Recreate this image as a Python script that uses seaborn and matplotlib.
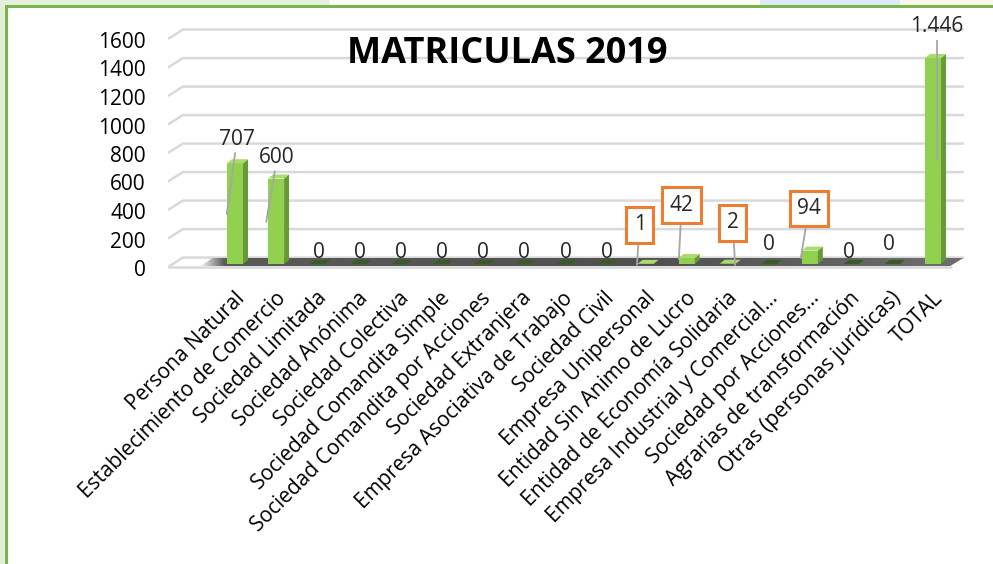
import matplotlib
matplotlib.use("Agg")
import matplotlib.pyplot as plt
import matplotlib.transforms as mtransforms
from matplotlib.patches import Polygon, Rectangle
from matplotlib.colors import LinearSegmentedColormap
import seaborn as sns
import pandas as pd
import numpy as np

# ---------------- data ----------------
categorias = [
    "Persona Natural",
    "Establecimiento de Comercio",
    "Sociedad Limitada",
    "Sociedad Anónima",
    "Sociedad Colectiva",
    "Sociedad Comandita Simple",
    "Sociedad Comandita por Acciones",
    "Sociedad Extranjera",
    "Empresa Asociativa de Trabajo",
    "Sociedad Civil",
    "Empresa Unipersonal",
    "Entidad Sin Animo de Lucro",
    "Entidad de Economía Solidaria",
    "Empresa Industrial y Comercial...",
    "Sociedad por Acciones...",
    "Agrarias de transformación",
    "Otras (personas jurídicas)",
    "TOTAL",
]
valores = [707, 600, 0, 0, 0, 0, 0, 0, 0, 0, 1, 42, 2, 0, 94, 0, 0, 1446]
etiquetas = ["707", "600", "0", "0", "0", "0", "0", "0", "0", "0",
             "1", "42", "2", "0", "94", "0", "0", "1.446"]
ticks_y = [0, 200, 400, 600, 800, 1000, 1200, 1400, 1600]
titulo = "MATRICULAS 2019"

# ---------------- layout (pixels) ----------------
W, H, DPI = 993, 564, 100
PX_X = 41.06      # pixels per category
PX_Y = 0.1425     # pixels per unit
X0_PX = 235.0     # pixel x of first category
Y0_PX = 264.0     # pixel y of value 0
XLIM = (-1.63, 17.8)
YLIM = (-40, 1730)
FS = 15

# label offsets (px right, px down) relative to (category, value)
lab_off = [(2, -24), (1, -21), (2, -12), (2, -12), (2, -12), (2, -12), (2, -12),
           (2, -12), (2, -12), (2, -12), (-6, -39), (-5, -53), (5, -41), (0, -19),
           (-1, -42), (-2, -11), (-3, -19), (4, -31)]
# leader line end (category offset, value) for labels with leaders
leaders = {0: (-0.2, 350), 1: (-0.24, 295), 17: (0.1, 730),
           10: (-0.21, -7), 11: (-0.19, 35), 12: (0.18, -7), 14: (-0.22, 42)}

sns.set_theme(style="white")
plt.rcParams["font.family"] = ["Open Sans", "DejaVu Sans"]

fig = plt.figure(figsize=(W / DPI, H / DPI), dpi=DPI)
fig.patch.set_facecolor("white")

# page background / frame
def fr(x0, y0, x1, y1):
    return (x0 / W, 1 - y1 / H, (x1 - x0) / W, (y1 - y0) / H)

for (x0, y0, x1, y1, c) in [(0, 0, 330, 6, "#E6F0DE"), (330, 0, 760, 6, "#FDFDF3"),
                             (760, 0, 900, 6, "#DCE9F6"), (900, 0, 993, 6, "#F7F7EC"),
                             (0, 6, 5, 564, "#E2EFDA")]:
    a, b, w, h = fr(x0, y0, x1, y1)
    fig.patches.append(Rectangle((a, b), w, h, transform=fig.transFigure,
                                 facecolor=c, edgecolor="none", zorder=0))
for (x0, y0, x1, y1) in [(5, 5, 993, 8), (5, 5, 8, 564)]:
    a, b, w, h = fr(x0, y0, x1, y1)
    fig.patches.append(Rectangle((a, b), w, h, transform=fig.transFigure,
                                 facecolor="#7AB44E", edgecolor="none", zorder=1))

# axes placement
left_px = X0_PX + XLIM[0] * PX_X
right_px = X0_PX + XLIM[1] * PX_X
top_px = Y0_PX - YLIM[1] * PX_Y
bot_px = Y0_PX - YLIM[0] * PX_Y
ax = fig.add_axes([left_px / W, 1 - bot_px / H, (right_px - left_px) / W,
                   (bot_px - top_px) / H])
ax.set_facecolor("none")

df = pd.DataFrame({"categoria": categorias, "valor": valores})
sns.barplot(data=df, x="categoria", y="valor", color="#92D050", saturation=1,
            width=0.39, ax=ax, zorder=5, edgecolor="none", linewidth=0)
bars = [p for p in ax.patches if isinstance(p, Rectangle)]

for s in ax.spines.values():
    s.set_visible(False)

# grid: back wall + side wall diagonal
grid_c = "#D9D9D9"
dg_x = 0.36
for v in ticks_y:
    ax.plot([XLIM[0], XLIM[0] + dg_x, 17.75], [v - 21, v + 45, v + 45],
            color=grid_c, lw=1.8, zorder=1, solid_capstyle="butt")
# floor front edge
ax.plot([XLIM[0], 17.45], [-21, -21], color=grid_c, lw=1.8, zorder=1)

# dark floor with fading left end
floor = Polygon([(-0.85, -14), (17.42, -14), (17.74, 42), (-0.55, 42)],
                closed=True, facecolor="none", edgecolor="none", zorder=2)
ax.add_patch(floor)
cmap = LinearSegmentedColormap.from_list("fl", ["#FFFFFF", "#5A5A5A", "#505050", "#6E6E6E"])
gx = np.clip(np.interp(np.linspace(-0.9, 17.8, 256), [-0.9, -0.3, 10, 17.8],
                       [0, 0.33, 0.66, 1.0]), 0, 1)
img = ax.imshow(gx[None, :], cmap=cmap, vmin=0, vmax=1, aspect="auto",
                extent=(-0.9, 17.8, -14, 42), zorder=2, interpolation="bilinear")
img.set_clip_path(floor)

# 3D sides / tops on bars
dx = 5 / PX_X
dy = 4 / PX_Y
for p, v in zip(bars, valores):
    x0 = p.get_x()
    x1 = x0 + p.get_width()
    h = p.get_height()
    if v == 0:
        ax.add_patch(Polygon([(x0 + 0.02, 0), (x1, 0), (x1 + dx, dy), (x0 + dx + 0.02, dy)],
                             closed=True, facecolor="#3B5B24", edgecolor="none", zorder=6))
        p.set_visible(False)
        continue
    ax.add_patch(Polygon([(x1, 0), (x1, h), (x1 + dx, h + dy), (x1 + dx, dy)],
                         closed=True, facecolor="#679A36", edgecolor="none", zorder=6))
    ax.add_patch(Polygon([(x0, h), (x1, h), (x1 + dx, h + dy), (x0 + dx, h + dy)],
                         closed=True, facecolor="#A9DC6C", edgecolor="none", zorder=6))

ax.set_xlim(*XLIM)
ax.set_ylim(*YLIM)

# y ticks
ax.set_yticks(ticks_y)
ax.set_yticklabels([str(t) for t in ticks_y], fontsize=FS, color="#000000")
ax.tick_params(axis="y", length=0, pad=16)
off_y = mtransforms.ScaledTranslation(0, -4 / DPI, fig.dpi_scale_trans)
for lab in ax.get_yticklabels():
    lab.set_transform(lab.get_transform() + off_y)

# x ticks
ax.set_xticks(range(len(categorias)))
ax.set_xticklabels(categorias, rotation=45, ha="right", va="top",
                   rotation_mode="anchor", fontsize=FS, color="#000000")
ax.tick_params(axis="x", length=0, pad=13)
off_x = mtransforms.ScaledTranslation(-1 / DPI, 0, fig.dpi_scale_trans)
for lab in ax.get_xticklabels():
    lab.set_transform(lab.get_transform() + off_x)
ax.set_xlabel("")
ax.set_ylabel("")

# data labels
for i, (v, t) in enumerate(zip(valores, etiquetas)):
    ox, oy = lab_off[i]
    lx = i + ox / PX_X
    ly = v - oy / PX_Y
    boxed = 0 < v < 100
    bbox = dict(boxstyle="square,pad=0.35", fc="white", ec="#ED7D31", lw=2.2) if boxed else None
    if i in leaders:
        ex, ey = leaders[i]
        ax.annotate(t, xy=(i + ex, ey), xytext=(lx, ly), textcoords="data",
                    ha="center", va="center", fontsize=FS, bbox=bbox, zorder=8,
                    arrowprops=dict(arrowstyle="-", color="#A6A6A6", lw=1.3,
                                    shrinkA=0, shrinkB=0))
    else:
        ax.text(lx, ly, t, ha="center", va="center", fontsize=FS, bbox=bbox, zorder=8)

fig.text(507 / W, 1 - 54 / H, titulo, ha="center", va="center",
         fontsize=26, fontweight="bold", color="#000000")

fig.savefig("out.png", dpi=DPI)
